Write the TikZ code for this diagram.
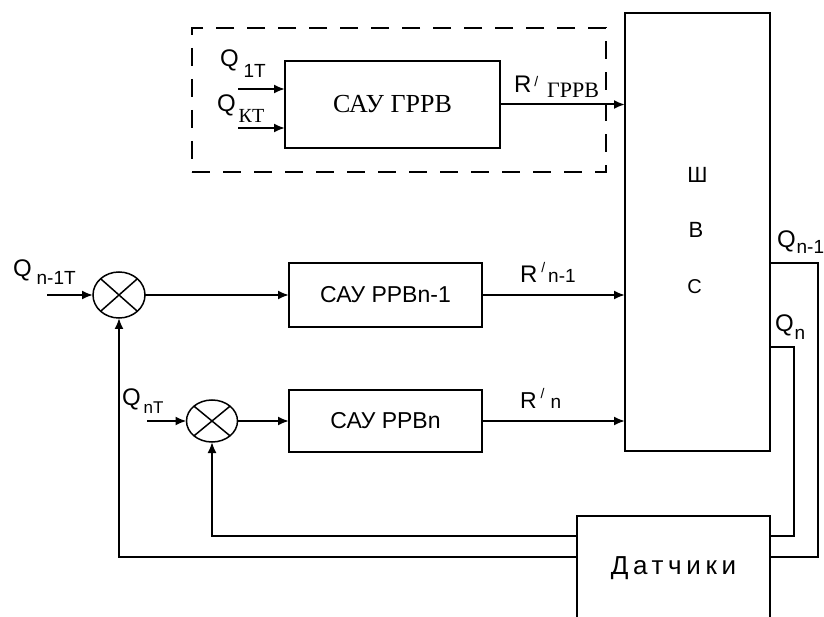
\documentclass[tikz,border=0pt]{standalone}
\usepackage{fontspec}
\setmainfont{Liberation Sans}
\newfontfamily\serifff{Liberation Serif}
\newfontfamily\spacedff[LetterSpace=18]{Liberation Sans}
\usetikzlibrary{arrows.meta,shapes.geometric}
\newcommand{\fs}[1]{\fontsize{#1}{#1}\selectfont}
\begin{document}
\begin{tikzpicture}[x=1pt,y=-1pt,
  line width=2pt,
  box/.style={draw, rectangle, inner sep=0pt, outer sep=0pt},
  summ/.style={draw, ellipse, inner sep=0pt, outer sep=0pt, line width=1.5pt},
  arr/.style={-{Latex[length=11pt,width=9pt]}},
  lbl/.style={inner sep=0pt, anchor=base west, font=\fs{24}},
  letter/.style={inner sep=0pt, font=\fs{22}},
  dashbox/.style={draw, dash pattern=on 18pt off 13pt, inner sep=0pt, outer sep=0pt}
  ]
\useasboundingbox (0,0) rectangle (824,617);

% blocks
\node[box, minimum width=145pt, minimum height=438pt] (shvs) at (697.5,232) {};
\node[letter] (lsh) at (697.5,175) {Ш};
\node[letter] (lv) at (696,230) {В};
\node[letter, font=\fs{20}] (ls) at (694.5,287) {С};

\node[dashbox, minimum width=414pt, minimum height=144pt] (grp) at (399,100) {};
\node[box, minimum width=215pt, minimum height=87pt, font=\serifff\fs{26}] (grrv) at (392.5,104.5) {САУ ГРРВ};

\node[box, minimum width=193pt, minimum height=64pt, font=\fs{23}] (rrvn1) at (385.5,295) {САУ РРВn-1};
\node[box, minimum width=193pt, minimum height=62pt, font=\fs{23}] (rrvn) at (385.5,421) {САУ РРВn};

\node[box, minimum width=193pt, minimum height=104pt, font=\spacedff\fs{26}] (dat) at (673.5,568) {Датчики};

% summing junctions
\node[summ, minimum width=52pt, minimum height=46pt] (s1) at (119,295) {};
\node[summ, minimum width=51pt, minimum height=42pt] (s2) at (212,421) {};
\draw[line width=1.5pt] (s1.north west) -- (s1.south east) (s1.north east) -- (s1.south west);
\draw[line width=1.5pt] (s2.north west) -- (s2.south east) (s2.north east) -- (s2.south west);

% inputs
\coordinate (q1in) at (238,89);
\coordinate (qkin) at (238,128);
\coordinate (qn1in) at (47,295);
\coordinate (qnin) at (147,421);
\draw[arr] (q1in) -- (q1in -| grrv.west);
\draw[arr] (qkin) -- (qkin -| grrv.west);
\draw[arr] (grrv.east) -- (grrv.east -| shvs.west);
\draw[arr] (qn1in) -- (s1.west);
\draw[arr] (s1.east) -- (rrvn1.west);
\draw[arr] (rrvn1.east) -- (rrvn1.east -| shvs.west);
\draw[arr] (qnin) -- (s2.west);
\draw[arr] (s2.east) -- (rrvn.west);
\draw[arr] (rrvn.east) -- (rrvn.east -| shvs.west);

% outputs and feedback
\coordinate (o1) at (818,263);
\coordinate (o2) at (794,347);
\coordinate (fb1) at (818,557);
\coordinate (fb2) at (794,536);
\draw (shvs.east |- o1) -- (o1) -- (fb1) -- (dat.east |- fb1);
\draw (shvs.east |- o2) -- (o2) -- (fb2) -- (dat.east |- fb2);
\draw[arr] (dat.west |- fb1) -| (s1.south);
\draw[arr] (dat.west |- fb2) -| (s2.south);

% labels
\node[lbl] (tq1t) at (219,67) {Q\kern5pt\raisebox{-11pt}{\fs{19}1T}};
\node[lbl] (tqkt) at (216,112) {Q\kern3pt\raisebox{-11pt}{\serifff\fs{20}КТ}};
\node[lbl] (tqn1t) at (12,277) {Q\kern5pt\raisebox{-8pt}{\fs{19}n-1T}};
\node[lbl] (tqnt) at (121,405) {Q\kern3pt\raisebox{-8pt}{\fs{17}nT}};
\node[lbl] (trg) at (513,93) {R\kern3pt\raisebox{6pt}{\fs{14}/}\kern9pt\raisebox{-5pt}{\serifff\fs{22}ГРРВ}};
\node[lbl] (trn1) at (519,283) {R\kern4pt\raisebox{10pt}{\fs{14}/}\kern3pt{\fs{19}n-1}};
\node[lbl, font=\fs{23}] (trn) at (519,408) {R\kern4pt\raisebox{10pt}{\fs{14}/}\kern6pt{\fs{19}n}};
\node[lbl] (tqn1) at (776,248) {Q\kern1pt\raisebox{-6pt}{\fs{19}n-1}};
\node[lbl] (tqn) at (774,332) {Q\kern1pt\raisebox{-8pt}{\fs{19}n}};
\end{tikzpicture}
\end{document}
